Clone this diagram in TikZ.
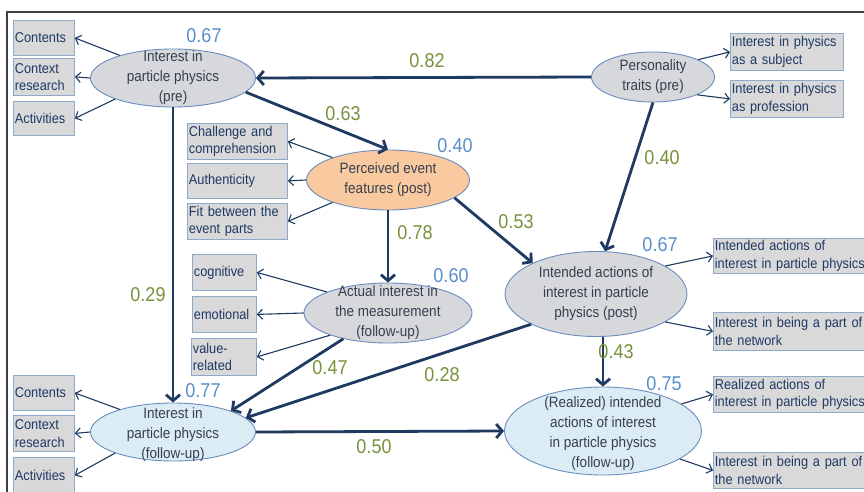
\documentclass[tikz,border=0pt]{standalone}
\usepackage{fontspec}
\setmainfont{Liberation Sans}[FakeStretch=0.9]
\usetikzlibrary{shapes.geometric,arrows.meta}
\definecolor{boxfill}{HTML}{D9D9D9}
\definecolor{boxdraw}{HTML}{8EAACB}
\definecolor{boxtext}{HTML}{1F3864}
\definecolor{ellgray}{HTML}{D6D8DC}
\definecolor{elldraw}{HTML}{6A8DBE}
\definecolor{elltext}{HTML}{35404F}
\definecolor{peach}{HTML}{F9C9A0}
\definecolor{ltblue}{HTML}{DBECF5}
\definecolor{navy}{HTML}{1F3A60}
\definecolor{olive}{HTML}{77933C}
\definecolor{wblue}{HTML}{5A8FCC}
\definecolor{framecol}{HTML}{404040}
\begin{document}
\begin{tikzpicture}[x=1pt,y=-1pt,
  box/.style={draw=boxdraw, fill=boxfill, line width=0.8pt, text=boxtext,
    font=\fontsize{14.2}{17.5}\selectfont, align=left, inner xsep=1.5pt, inner ysep=1pt, anchor=north west},
  ell/.style={ellipse, draw=elldraw, line width=0.9pt, inner sep=0pt},
  eltext/.style={font=\fontsize{15}{20}\selectfont, text=elltext, align=center},
  wt/.style={font=\fontsize{20}{22}\selectfont, text=olive},
  bl/.style={font=\fontsize{20}{22}\selectfont, text=wblue},
  thinarr/.style={draw=navy, line width=1.1pt, -{Straight Barb[length=5pt,width=10pt]}},
  thickarr/.style={draw=navy, line width=2.8pt, -{Straight Barb[length=6pt,width=14pt]}}
]
\useasboundingbox (0,0) rectangle (864,492);
\clip (0,0) rectangle (864,492);
\fill[white] (0,0) rectangle (864,492);
\draw[framecol, line width=1.2pt] (7,495) -- (7,12) -- (867,12);

% ellipses
\node[ell, fill=ellgray, minimum width=165pt, minimum height=58pt,
  label={[eltext]center:{Interest in\\particle physics\\(pre)}}] (pre) at (173,78) {};
\node[ell, fill=ellgray, minimum width=123pt, minimum height=50pt,
  label={[eltext]center:{Personality\\traits (pre)}}] (pers) at (653,77) {};
\node[ell, fill=peach, minimum width=163pt, minimum height=60pt,
  label={[eltext]center:{Perceived event\\features (post)}}] (perc) at (388,180) {};
\node[ell, fill=ellgray, minimum width=168pt, minimum height=60pt,
  label={[eltext]center:{Actual interest in\\the measurement\\(follow-up)}}] (act) at (388,313) {};
\node[ell, fill=ellgray, minimum width=182pt, minimum height=85pt,
  label={[eltext]center:{Intended actions of\\interest in particle\\physics (post)}}] (int) at (596,294) {};
\node[ell, fill=ltblue, minimum width=197pt, minimum height=88pt,
  label={[eltext, yshift=-3pt]center:{(Realized) intended\\actions of interest\\in particle physics\\(follow-up)}}] (real) at (603,431) {};
\node[ell, fill=ltblue, minimum width=165pt, minimum height=58pt,
  label={[eltext, yshift=-3pt]center:{Interest in\\particle physics\\(follow-up)}}] (fu) at (173,432) {};

% boxes
\node[box, minimum width=61pt, text width=58pt, minimum height=35pt] (c1) at (13,20) {Contents};
\node[box, minimum width=61pt, text width=58pt, minimum height=37pt] (c2) at (13,58) {Context\\research};
\node[box, minimum width=61pt, text width=58pt, minimum height=34pt] (c3) at (13,101) {Activities};
\node[box, minimum width=113pt, text width=110pt, minimum height=37pt] (p1) at (730,33) {Interest in physics\\as a subject};
\node[box, minimum width=113pt, text width=110pt, minimum height=37pt] (p2) at (730,80) {Interest in physics\\as profession};
\node[box, minimum width=100pt, text width=97pt, minimum height=36pt] (e1) at (187,123) {Challenge and\\comprehension};
\node[box, minimum width=100pt, text width=97pt, minimum height=35pt] (e2) at (187,163) {Authenticity};
\node[box, minimum width=100pt, text width=97pt, minimum height=36pt] (e3) at (187,203) {Fit between the\\event parts};
\node[box, minimum width=64pt, text width=61pt, minimum height=36pt] (a1) at (192,254) {cognitive};
\node[box, minimum width=64pt, text width=61pt, minimum height=36pt] (a2) at (192,296) {emotional};
\node[box, minimum width=65pt, text width=62pt, minimum height=37pt] (a3) at (191,338) {value-\\related};
\node[box, minimum width=170pt, text width=167pt, minimum height=35pt] (i1) at (713,238) {Intended actions of\\interest in particle physics};
\node[box, minimum width=170pt, text width=167pt, minimum height=38pt] (i2) at (713,312) {Interest in being a part of\\the network};
\node[box, minimum width=170pt, text width=167pt, minimum height=36pt] (r1) at (713,376) {Realized actions of\\interest in particle physics};
\node[box, minimum width=170pt, text width=167pt, minimum height=36pt] (r2) at (713,452) {Interest in being a part of\\the network};
\node[box, minimum width=61pt, text width=58pt, minimum height=35pt] (f1) at (13,375) {Contents};
\node[box, minimum width=61pt, text width=58pt, minimum height=36pt] (f2) at (13,415) {Context\\research};
\node[box, minimum width=61pt, text width=58pt, minimum height=36pt] (f3) at (13,457) {Activities};

% thin arrows (indicators)
\draw[thinarr] (pre.157) -- (c1.east);
\draw[thinarr] (pre.west) -- (c2.east);
\draw[thinarr] (pre.200) -- (c3.east);
\draw[thinarr] (pers.21) -- (p1.west);
\draw[thinarr] (pers.-22) -- (p2.west);
\draw[thinarr] (perc.158) -- (e1.east);
\draw[thinarr] (perc.west) -- (e2.east);
\draw[thinarr] (perc.202) -- (e3.east);
\draw[thinarr] (act.161) -- (a1.east);
\draw[thinarr] (act.west) -- (a2.east);
\draw[thinarr] (act.201) -- (a3.east);
\draw[thinarr] (int.22) -- (i1.west);
\draw[thinarr] (int.-22) -- (i2.west);
\draw[thinarr] (real.19) -- (r1.west);
\draw[thinarr] (real.-20) -- (r2.west);
\draw[thinarr] (fu.157) -- (f1.east);
\draw[thinarr] (fu.west) -- (f2.east);
\draw[thinarr] (fu.200) -- (f3.east);

% thick arrows (paths)
\draw[thickarr] (pers.west) -- (pre.east);
\draw[thickarr] (pre.-11) -- (perc.north);
\draw[thickarr] (perc.south) -- (act.north);
\draw[thickarr] (perc.-15) -- (int.154);
\draw[thickarr] (pers.south) -- (int.78);
\draw[thickarr] (pre.south) -- (fu.north);
\draw[thickarr] (real.north |- int.south) -- (real.north);
\draw[thickarr] (act.210) -- (fu.20);
\draw[thickarr] (int.205) -- (fu.11);
\draw[thickarr] (fu.east) -- (real.west);

% path weights
\node[wt] (w82) at (427,61) {0.82};
\node[wt] (w63) at (343,114) {0.63};
\node[wt] (w78) at (415,233) {0.78};
\node[wt] (w53) at (516,222) {0.53};
\node[wt] (w40) at (662,158) {0.40};
\node[wt] (w29) at (148,295) {0.29};
\node[wt] (w47) at (330,368) {0.47};
\node[wt] (w28) at (442,375) {0.28};
\node[wt] (w43) at (616,352) {0.43};
\node[wt] (w50) at (374,447) {0.50};

% explained variances
\node[bl] (v1) at (204,36) {0.67};
\node[bl] (v2) at (455,146) {0.40};
\node[bl] (v3) at (451,276) {0.60};
\node[bl] (v4) at (660,245) {0.67};
\node[bl] (v5) at (664,384) {0.75};
\node[bl] (v6) at (203,391) {0.77};
\end{tikzpicture}
\end{document}
